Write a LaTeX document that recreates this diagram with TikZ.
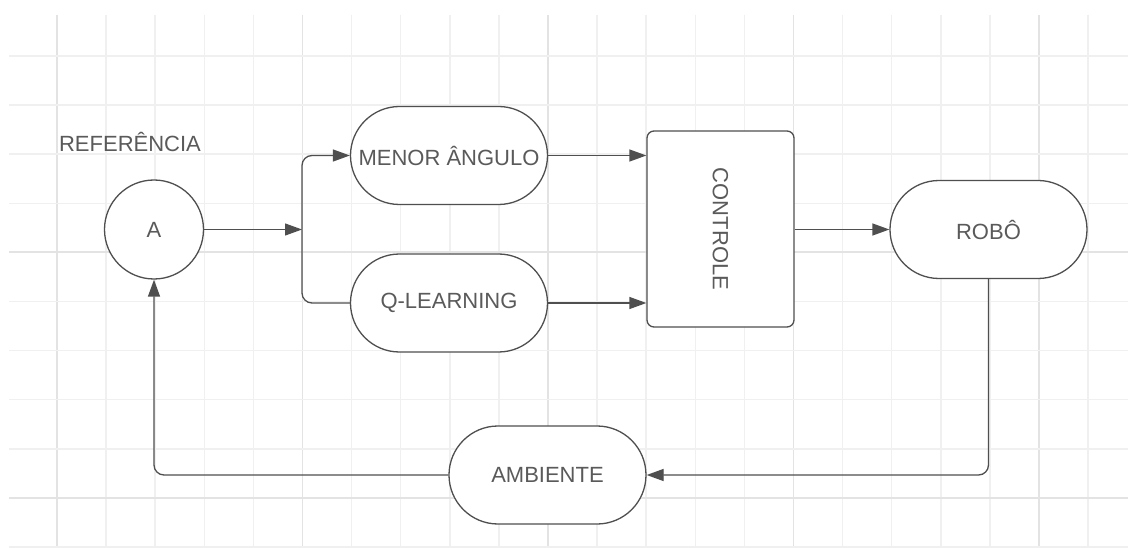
\documentclass[tikz,border=0pt]{standalone}
\usepackage{fontspec}
\setmainfont{Liberation Sans}
\usetikzlibrary{arrows.meta,shapes.misc}
\definecolor{gridminor}{HTML}{F0F0F0}
\definecolor{gridmajor}{HTML}{E3E3E3}
\definecolor{edge}{HTML}{4F4F4F}
\definecolor{txt}{HTML}{5A5A5A}
\tikzset{
  txtstyle/.style={text=txt, font=\fontsize{22}{26}\selectfont},
  stadium/.style={draw=edge, line width=1.3pt, fill=white, rounded rectangle,
    minimum width=197pt, minimum height=98pt, inner sep=0pt, txtstyle},
  circ/.style={draw=edge, line width=1.3pt, fill=white, circle, minimum size=99pt, inner sep=0pt, txtstyle},
  ctrlbox/.style={draw=edge, line width=1.3pt, fill=white, rectangle, rounded corners=7pt,
    minimum width=196pt, minimum height=147pt, inner sep=0pt, txtstyle},
  conn/.style={draw=edge, line width=1.3pt, rounded corners=10pt},
  arr/.style={conn, -{Triangle[length=17pt,width=12pt]}},
}
\begin{document}
\begin{tikzpicture}[x=1pt,y=-1pt]
\useasboundingbox (0,0) rectangle (1128,548);
\fill[white] (0,0) rectangle (1128,548);
% grid
\foreach \k in {0,...,21}{
  \pgfmathsetmacro{\xx}{57+49.1*\k}
  \pgfmathtruncatemacro{\m}{mod(\k,5)}
  \ifnum\m=0
    \draw[gridmajor, line width=1.8pt] (\xx,15) -- (\xx,548);
  \else
    \draw[gridminor, line width=1.5pt] (\xx,15) -- (\xx,548);
  \fi
}
\foreach \k in {0,...,10}{
  \pgfmathsetmacro{\yy}{56+49.1*\k}
  \pgfmathtruncatemacro{\m}{mod(\k+1,5)}
  \ifnum\m=0
    \draw[gridmajor, line width=1.8pt] (9,\yy) -- (1128,\yy);
  \else
    \draw[gridminor, line width=1.5pt] (9,\yy) -- (1128,\yy);
  \fi
}
% nodes
\node[txtstyle] (ref) at (130,142) {REFERÊNCIA};
\node[circ] (A) at (154,229.5) {A};
\node[stadium] (menor) at (449,155.5) {MENOR ÂNGULO};
\node[stadium] (ql) at (449,303) {Q-LEARNING};
\node[ctrlbox, rotate=-90] (ctrl) at (720.5,229) {CONTROLE};
\node[stadium] (robo) at (988.5,229.5) {ROBÔ};
\node[stadium] (amb) at (547.5,475) {AMBIENTE};
\coordinate (j) at (302,229.5);
% connectors
\draw[arr] (A.east) -- (j);
\draw[arr] (j) |- (menor.west);
\draw[conn] (j) |- (ql.west);
\draw[arr] (menor.east) -- (ctrl.south |- menor.east);
\draw[arr] (ql.east) -- (ctrl.south |- ql.east);
\draw[arr] (ctrl.north |- robo.west) -- (robo.west);
\draw[arr] (robo.south) |- (amb.east);
\draw[arr] (amb.west) -| (A.south);
\end{tikzpicture}
\end{document}
